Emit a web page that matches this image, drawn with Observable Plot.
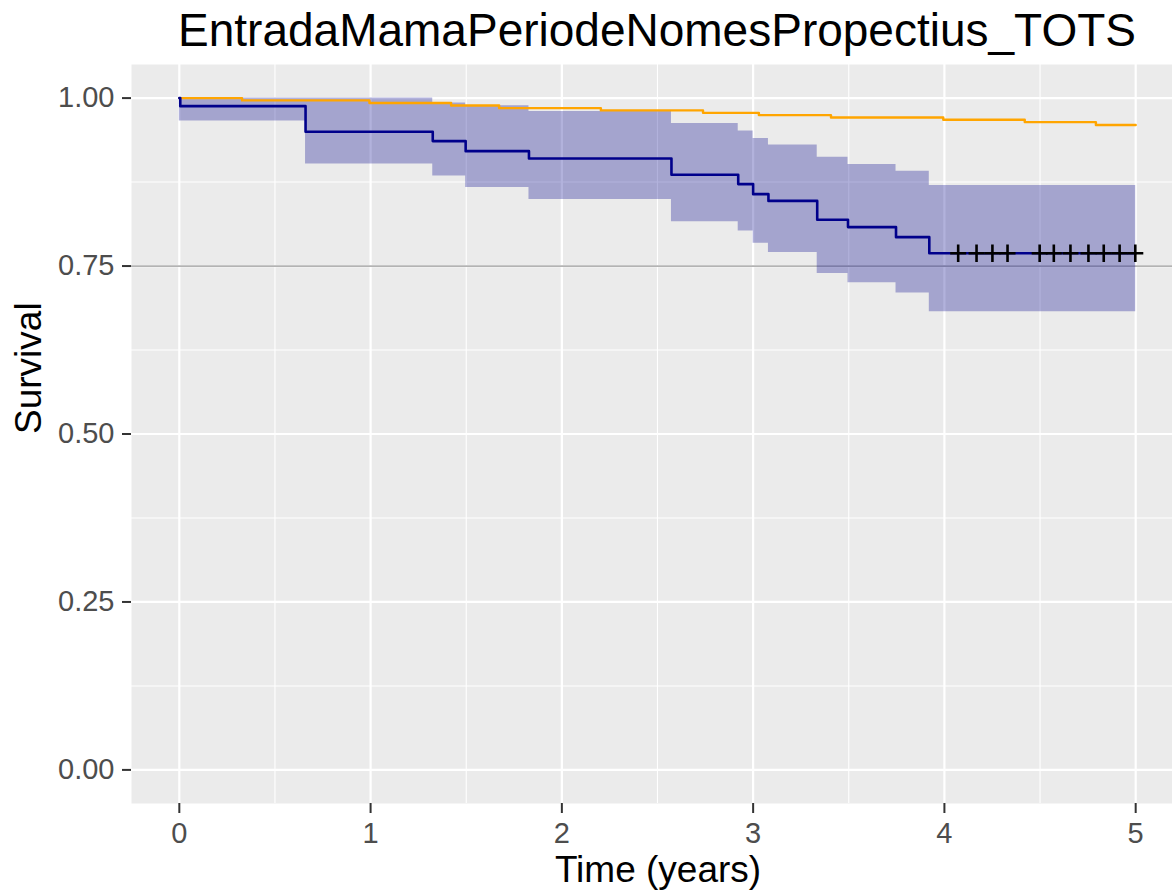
<!DOCTYPE html>
<html><head><meta charset="utf-8">
<script src="https://cdn.jsdelivr.net/npm/d3@7"></script>
<script src="https://cdn.jsdelivr.net/npm/@observablehq/plot@0.6"></script>
<style>
body{margin:0;background:#fff;font-family:"Liberation Sans",Arial,sans-serif;}
#title{height:56px;margin-left:131px;width:1052px;text-align:center;font-size:46px;line-height:56px;padding-top:0;color:#000;white-space:nowrap;position:relative;top:2px;}
#chart{margin-top:0;}
</style></head><body>
<div id="title">EntradaMamaPeriodeNomesPropectius_TOTS</div>
<div id="chart"></div>
<script>
// ---- data ----
const xTicks = [0, 1, 2, 3, 4, 5];
const xMinor = [0.5, 1.5, 2.5, 3.5, 4.5];
const yTicks = [0, 0.25, 0.5, 0.75, 1];
const yMinor = [0.125, 0.375, 0.625, 0.875];
const refLine = [0.75];

const kmTime = [0, 0.005, 0.66, 1.325, 1.497, 1.828, 2.573, 2.922, 3.0, 3.08, 3.335, 3.496, 3.747, 3.921, 5.0];
const kmSurv = [1, 0.988, 0.950, 0.936, 0.921, 0.910, 0.886, 0.872, 0.857, 0.847, 0.819, 0.808, 0.793, 0.769, 0.769];

const bandTime  = [0, 0.66, 1.325, 1.497, 1.828, 2.573, 2.922, 3.0, 3.08, 3.335, 3.496, 3.747, 3.921, 5.0];
const bandUpper = [1.0, 1.0, 0.9926, 0.9887, 0.980, 0.962, 0.951, 0.940, 0.930, 0.912, 0.901, 0.891, 0.870, 0.870];
const bandLower = [0.966, 0.902, 0.884, 0.867, 0.849, 0.816, 0.802, 0.784, 0.770, 0.739, 0.725, 0.710, 0.682, 0.682];

const expTime = [0, 0.328, 0.994, 1.421, 1.672, 2.204, 2.738, 3.03, 3.407, 3.994, 4.42, 4.792, 5.0];
const expSurv = [1.0, 0.9966, 0.9926, 0.989, 0.985, 0.9817, 0.978, 0.9747, 0.9712, 0.9678, 0.9643, 0.960, 0.960];

const censorTime = [4.072, 4.168, 4.251, 4.330, 4.498, 4.572, 4.659, 4.753, 4.833, 4.916, 4.998];
const censorSurv = 0.769;

// ---- tables ----
const km = kmTime.map((t, i) => ({t, s: kmSurv[i]}));
const band = bandTime.map((t, i) => ({t, lo: bandLower[i], hi: bandUpper[i]}));
const expected = expTime.map((t, i) => ({t, s: expSurv[i]}));
const censors = censorTime.map(t => ({t, s: censorSurv}));

const plusSymbol = {
  draw(ctx, size) {
    const r = Math.sqrt(size / Math.PI);
    const h = r * 1.0, v = r * 1.1;
    ctx.moveTo(-h, 0); ctx.lineTo(h, 0);
    ctx.moveTo(0, -v); ctx.lineTo(0, v);
  }
};

const chart = Plot.plot({
  width: 1172,
  height: 838,
  marginLeft: 131,
  marginRight: 0,
  marginTop: 8,
  marginBottom: 91,
  style: {fontFamily: "'Liberation Sans', Arial, sans-serif", fontSize: "29px", color: "#4D4D4D", background: "#fff", overflow: "visible"},
  x: {domain: [-0.25, 5.25], range: [131, 1183]},
  y: {domain: [-0.05, 1.05]},
  marks: [
    Plot.frame({fill: "#EBEBEB", stroke: null}),
    Plot.ruleX(xMinor, {stroke: "#fff", strokeWidth: 1.1}),
    Plot.ruleY(yMinor, {stroke: "#fff", strokeWidth: 1.1}),
    Plot.ruleX(xTicks, {stroke: "#fff", strokeWidth: 2.2}),
    Plot.ruleY(yTicks, {stroke: "#fff", strokeWidth: 2.2}),
    Plot.ruleY(refLine, {stroke: "#B3B3B3", strokeWidth: 1.8}),
    Plot.areaY(band, {x: "t", y1: "lo", y2: "hi", curve: "step-after", fill: "#00008B", fillOpacity: 0.3}),
    Plot.line(expected, {x: "t", y: "s", curve: "step-after", stroke: "#FFA500", strokeWidth: 2.4}),
    Plot.line(km, {x: "t", y: "s", curve: "step-after", stroke: "#00008B", strokeWidth: 2.6}),
    Plot.dot(censors, {x: "t", y: "s", symbol: plusSymbol, r: 8, stroke: "#000", fill: "none", strokeWidth: 2.6}),
    Plot.axisX({ticks: xTicks, tickSize: 10, tickPadding: 9, fontSize: 29, stroke: "#333", strokeWidth: 2, label: null, tickFormat: d3.format("d")}),
    Plot.axisY({ticks: yTicks, tickSize: 9, tickPadding: 8, fontSize: 29, stroke: "#333", strokeWidth: 2, label: null, tickFormat: d3.format(".2f")}),
    Plot.text(["Time (years)"], {frameAnchor: "bottom", dx: 6, dy: 78, fontSize: 37, fill: "#000"}),
    Plot.text(["Survival"], {frameAnchor: "left", rotate: -90, dx: -102, fontSize: 37, fill: "#000"})
  ]
});
document.getElementById("chart").appendChild(chart);
</script>
</body></html>
